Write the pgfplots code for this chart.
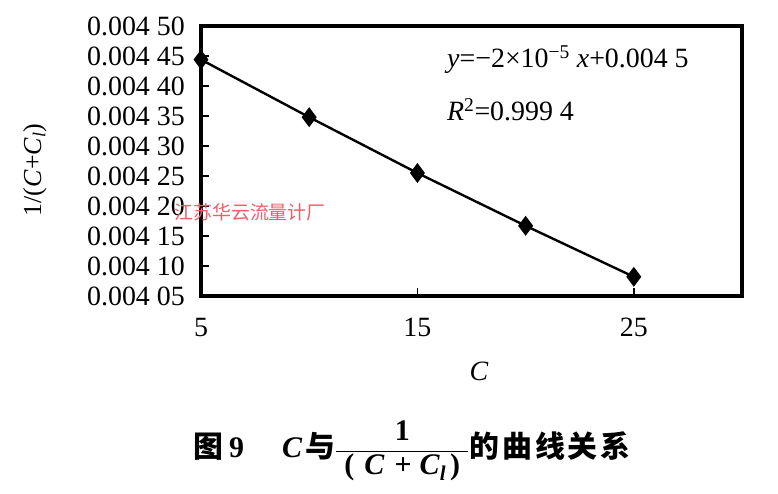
\documentclass[border=0pt]{standalone}
\usepackage{pgfplots}
\pgfplotsset{compat=1.18}
\usepackage{fontspec}
\setmainfont{Liberation Serif}
\newfontfamily\cjk{Noto Sans CJK SC}

\begin{document}
\begin{tikzpicture}
% frame of the whole picture, in pixels of the reference (1px = 1bp), axis box at (0,0)
\useasboundingbox (-201bp,-198bp) rectangle (577bp,296bp);
\begin{axis}[
    anchor=south west, at={(0,0)},
    scale only axis,
    width=541bp, height=270bp,
    xmin=5, xmax=30,
    ymin=0.00405, ymax=0.0045,
    clip=false,
    xtick={5,15,25},
    xticklabels={5,15,25},
    ytick={0.00405,0.0041,0.00415,0.0042,0.00425,0.0043,0.00435,0.0044,0.00445,0.0045},
    yticklabels={0.004 05,0.004 10,0.004 15,0.004 20,0.004 25,0.004 30,0.004 35,0.004 40,0.004 45,0.004 50},
    scaled y ticks=false,
    xtick pos=left, ytick pos=left,
    tick align=inside,
    major tick length=8bp,
    tick style={line width=1.6bp, black},
    ticklabel style={font=\fontsize{28}{28}\selectfont},
    yticklabel style={inner sep=0pt, xshift=-16bp},
    xticklabel style={inner sep=0pt, yshift=-22bp},
]
\addplot[black, line width=2.4bp, mark=diamond*, mark size=8bp, mark options={solid}]
    coordinates {
    (5,0.004444)(10,0.004348)(15,0.004255)(20,0.004167)(25,0.004082)
    };
\end{axis}
% heavy frame round the plot area
\draw[line width=3.6bp] (0,0) rectangle (541bp,270bp);

% fit equation
\node[anchor=west, font=\fontsize{28}{28}\selectfont, inner sep=0pt] at (246bp,236bp)
    {\textit{y}=−2×10\textsuperscript{−5} \textit{x}+0.004 5};
\node[anchor=west, font=\fontsize{28}{28}\selectfont, inner sep=0pt] at (246bp,186bp)
    {\textit{R}\textsuperscript{2}=0.999 4};

% axis labels
\node[rotate=90, font=\fontsize{26}{26}\selectfont] at (-166bp,126bp)
    {1/(\textit{C}+\textit{C}\textsubscript{\textit{l}})};
\node[font=\fontsize{28}{28}\selectfont] at (278bp,-75bp) {\textit{C}};

% watermark
\node[text={rgb,255:red,235;green,95;blue,105}, font=\cjk\fontsize{19}{19}\selectfont] at (49bp,84bp)
    {江苏华云流量计厂};

% caption
\node[font=\fontsize{30}{30}\selectfont] at (211bp,-155bp)
    {{\cjk\bfseries 图}\hspace{6bp}\textbf{9}\hspace{38bp}\textbf{\textit{C}}\hspace{3bp}{\cjk\bfseries 与}$\displaystyle\frac{\mbox{\bfseries 1}}{\mbox{\bfseries\hspace{8bp}(\hspace{10bp}\textit{C}\hspace{10bp}+\hspace{8bp}\textit{C}\textsubscript{\textit{l}}\hspace{4bp})\hspace{8bp}}}$%
     {\cjk\bfseries 的\hspace{3bp}曲\hspace{3bp}线\hspace{3bp}关\hspace{3bp}系}};
\end{tikzpicture}
\end{document}
